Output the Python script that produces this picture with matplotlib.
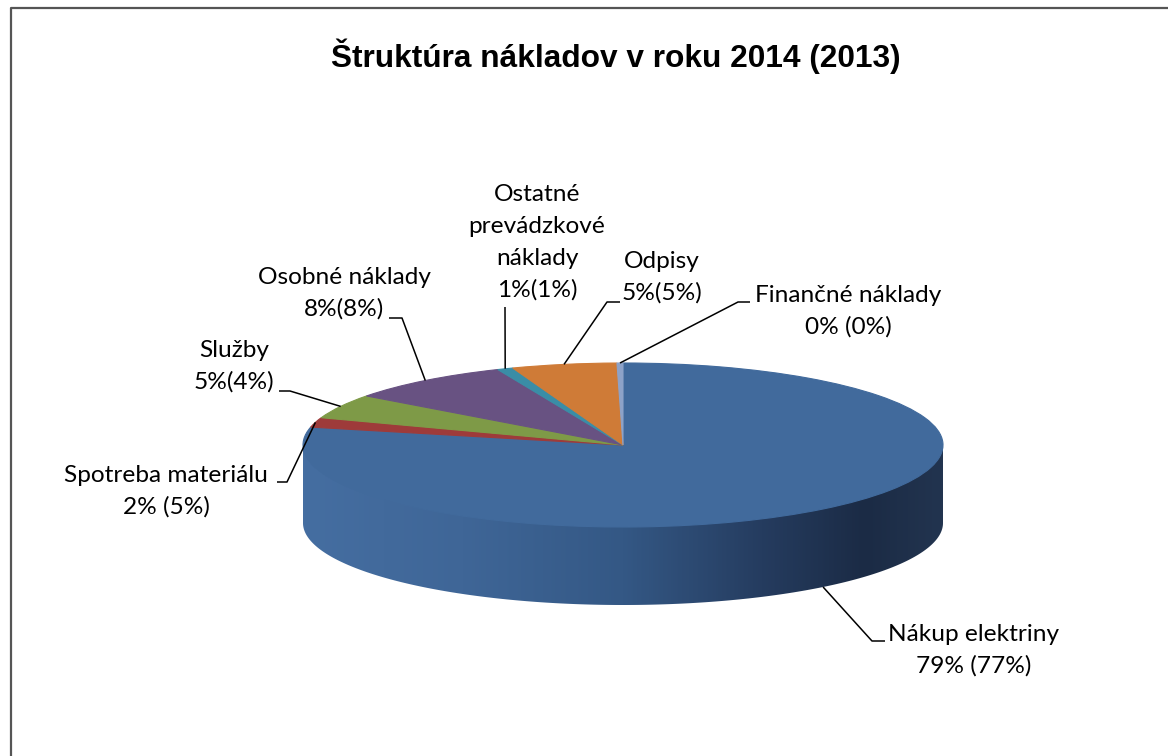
import numpy as np
import matplotlib.pyplot as plt
from matplotlib.colors import LinearSegmentedColormap
from matplotlib.patches import Polygon
from matplotlib.lines import Line2D

# Chart data (shares, labels as printed)
categories = ['Nákup elektriny', 'Spotreba materiálu', 'Služby', 'Osobné náklady',
              'Ostatné\nprevádzkové\nnáklady', 'Odpisy', 'Finančné náklady']
shares = [78.5, 1.9, 4.8, 8.4, 0.8, 5.3, 0.3]
pct_labels = ['79% (77%)', '2% (5%)', '5%(4%)', '8%(8%)', '1%(1%)', '5%(5%)', '0% (0%)']
title = 'Štruktúra nákladov v roku 2014 (2013)'

colors = ['#416a9c', '#9e3b3a', '#7e9a47', '#685282', '#3a8da6', '#cf7b37', '#8da2c8']

# layout in image pixels: label centre x, first baseline y, leader start, leader elbow
label_pos = [(974, 641), (166, 482), (234, 357), (344, 284), (537, 201), (662, 268), (848, 302)]
leader_start = [(885, 641), (277, 482), (279, 391), (389, 318), (505, 307), (620, 302), (750, 302)]
leader_elbow = [(872, 641), (287, 482), (290, 391), (402, 318), (505, 307), (607, 302), (738, 302)]
line_step = 32

W, H = 1168, 756
cx, cy, rx, ry = 623, 445, 320, 82
depth = 78 / ry

fig = plt.figure(figsize=(W / 100, H / 100), dpi=100)
ax = fig.add_axes([0, 0, 1, 1])

# Top face of the pie
wedges, _ = ax.pie(shares, colors=colors, startangle=90, counterclock=False,
                   wedgeprops=dict(linewidth=0.8, zorder=3))
for w in wedges:
    w.set_edgecolor(w.get_facecolor())

# Side wall (front half only)
side_cmap = LinearSegmentedColormap.from_list(
    'side', [(0.0, '#456ea1'), (0.25, '#3f6697'), (0.5, '#345885'),
             (0.72, '#253c5f'), (0.88, '#1b2b45'), (1.0, '#22344f')])
bounds = 90 - 360 * np.cumsum([0] + shares) / sum(shares)
for i in range(len(shares)):
    a0, a1 = max(bounds[i + 1], -180), min(bounds[i], 0)
    if a1 <= a0:
        continue
    t = np.radians(np.linspace(a0, a1, 200))
    xs = np.cos(t)
    top = np.sin(t)
    # small overlap upward so no seam shows under the top face
    verts = np.vstack([np.column_stack([xs, top + 0.03]),
                       np.column_stack([xs[::-1], top[::-1] - depth])])
    if i == 0:
        poly = Polygon(verts, closed=True, facecolor='none', edgecolor='none')
        ax.add_patch(poly)
        grad = np.linspace(0, 1, 400).reshape(1, -1)
        im = ax.imshow(grad, cmap=side_cmap, extent=[-1, 1, -1 - depth, 0.05],
                       aspect='auto', zorder=2, interpolation='bilinear')
        im.set_clip_path(poly)
    else:
        ax.add_patch(Polygon(verts, closed=True, facecolor=colors[i],
                             edgecolor='none', zorder=2))

ax.set_xlim(-cx / rx, (W - cx) / rx)
ax.set_ylim(-(H - cy) / ry, cy / ry)
ax.set_aspect('auto')
ax.axis('off')

# Overlay axes in image pixels for text and leader lines
tx = fig.add_axes([0, 0, 1, 1], zorder=5)
tx.set_xlim(0, W)
tx.set_ylim(H, 0)
tx.set_facecolor('none')
tx.axis('off')


def to_px(x, y):
    return tx.transData.inverted().transform(ax.transData.transform((x, y)))


mids = np.radians((bounds[:-1] + bounds[1:]) / 2)
for i, lab in enumerate(categories):
    lx, ly = label_pos[i]
    lines = lab.split('\n') + [pct_labels[i]]
    for j, line in enumerate(lines):
        tx.text(lx, ly + j * line_step, line, ha='center', va='baseline',
                fontsize=17.6, family=['Lato', 'DejaVu Sans'], color='black')
    # anchor on the slice edge at its mid angle
    mx, my = np.cos(mids[i]), np.sin(mids[i])
    if my < 0:
        my -= depth
    axp, ayp = to_px(mx, my)
    sx, sy = leader_start[i]
    ex, ey = leader_elbow[i]
    tx.plot([sx, ex, axp], [sy, ey, ayp], color='black', lw=1.1,
            solid_capstyle='butt')

tx.text(616, 67, title, ha='center', va='baseline', fontsize=22.8,
        fontweight='bold', family='Liberation Sans')

# chart frame (only top and left edges are visible in the crop)
fig.add_artist(Line2D([11, 11, W + 5], [-5, H - 8, H - 8], transform=None,
                      color='#555555', lw=1.6))

fig.savefig('out.png', dpi=100)
